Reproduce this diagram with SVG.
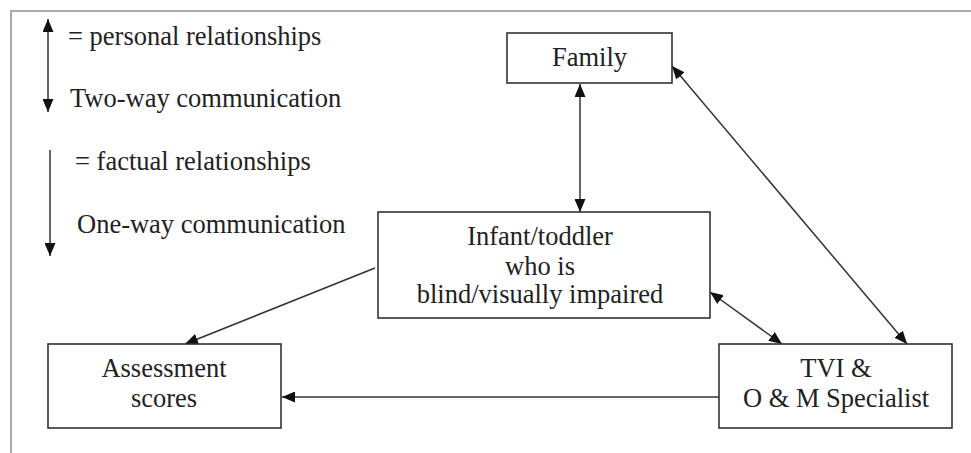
<svg xmlns="http://www.w3.org/2000/svg" width="971" height="453" viewBox="0 0 971 453">
<defs>
<style>
.box{fill:#fff;stroke:#333;stroke-width:1.6}
.t{font-size:26.5px;fill:#222}
.c{text-anchor:middle}
.ln{stroke:#333;stroke-width:1.5;fill:none}
.frame{stroke:#aaa;stroke-width:2;fill:none}
</style>
<marker id="ah" markerUnits="userSpaceOnUse" markerWidth="13" markerHeight="11" refX="13" refY="5.5" orient="auto-start-reverse" viewBox="0 0 13 11">
<path d="M0,0 L13,5.5 L0,11 z" fill="#111"/>
</marker>
</defs>
<rect width="971" height="453" fill="#fff"/>
<path class="frame" d="M11,453 L11,11 L971,11"/>
<g font-family="Liberation Serif, Times New Roman, DejaVu Serif, serif">
<g id="legend">
<line class="ln" x1="48" y1="19" x2="48" y2="112" marker-start="url(#ah)" marker-end="url(#ah)"/>
<text class="t" x="68" y="45">= personal relationships</text>
<text class="t" x="70" y="107">Two-way communication</text>
<line class="ln" x1="50" y1="150" x2="50" y2="256" marker-end="url(#ah)"/>
<text class="t" x="75" y="170">= factual relationships</text>
<text class="t" x="77" y="233">One-way communication</text>
</g>
<g id="connectors">
<line class="ln" x1="580" y1="84" x2="580" y2="212" marker-start="url(#ah)" marker-end="url(#ah)"/>
<line class="ln" x1="672" y1="66" x2="907" y2="344" marker-start="url(#ah)" marker-end="url(#ah)"/>
<line class="ln" x1="710" y1="292" x2="782" y2="344" marker-start="url(#ah)" marker-end="url(#ah)"/>
<line class="ln" x1="375" y1="268" x2="185" y2="344" marker-end="url(#ah)"/>
<line class="ln" x1="719" y1="397" x2="282" y2="397" marker-end="url(#ah)"/>
</g>
<g id="family">
<rect class="box" x="507" y="33" width="165" height="50"/>
<text class="t c" x="589.5" y="66">Family</text>
</g>
<g id="infant">
<rect class="box" x="378" y="212" width="332" height="106"/>
<text class="t c" x="540" y="245">Infant/toddler</text>
<text class="t c" x="540" y="275">who is</text>
<text class="t c" x="540" y="303">blind/visually impaired</text>
</g>
<g id="assessment">
<rect class="box" x="48" y="344" width="233" height="84"/>
<text class="t c" x="164" y="377">Assessment</text>
<text class="t c" x="164" y="407">scores</text>
</g>
<g id="tvi">
<rect class="box" x="719" y="344" width="233" height="84"/>
<text class="t c" x="836" y="377">TVI &amp;</text>
<text class="t c" x="836" y="407">O &amp; M Specialist</text>
</g>
</g>
</svg>
